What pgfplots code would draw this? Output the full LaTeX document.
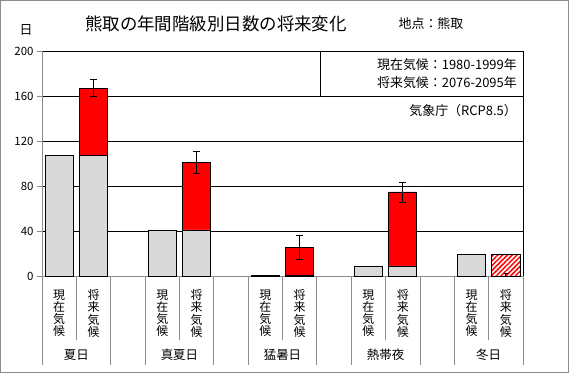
\documentclass[border=0pt]{standalone}
\usepackage{fontspec}
\setmainfont{Noto Sans CJK JP}
\usepackage{pgfplots}
\pgfplotsset{compat=1.18}
\usetikzlibrary{patterns.meta}
\definecolor{barg}{HTML}{D9D9D9}
\definecolor{axg}{HTML}{8C8C8C}
\begin{document}
\begin{tikzpicture}[x=1bp,y=1bp]
\useasboundingbox (0,0) rectangle (569,373);
\draw[axg, line width=1bp] (0.5,0.5) rectangle (568.5,372.5);
\begin{axis}[
  at={(42bp,97bp)}, anchor=south west,
  width=481bp, height=225bp, scale only axis,
  xmin=-0.5, xmax=13.5, ymin=0, ymax=200,
  ytick={0,40,...,200},
  xtick={0,1,3,4,6,7,9,10,12,13},
  xticklabels={現\\在\\気\\候, 将\\来\\気\\候, 現\\在\\気\\候, 将\\来\\気\\候, 現\\在\\気\\候, 将\\来\\気\\候, 現\\在\\気\\候, 将\\来\\気\\候, 現\\在\\気\\候, 将\\来\\気\\候},
  xticklabel style={align=center, font=\fontsize{12}{12.3}\selectfont, anchor=north, yshift=-5bp},
  x tick style={draw=none},
  y tick style={axg, line width=0.75bp},
  tick align=outside, major tick length=5bp,
  ymajorgrids, grid style={black, line width=0.75bp},
  axis x line*=bottom, axis y line*=left,
  axis line style={axg, line width=0.75bp, -},
  yticklabel style={font=\fontsize{11.5}{12}\selectfont},
  /pgf/number format/assume math mode=true,
  ybar, bar width=0.82, bar shift=0pt,
  clip=false,
]
% current climate
\addplot[fill=barg, draw=black, line width=0.75bp] coordinates {(0,107.5) (3,41) (6,0.8) (9,9) (12,19.5)};
% future climate total (red part shows increase)
\addplot[fill=red, draw=black, line width=0.75bp,
  error bars/.cd, y dir=both, y explicit,
  error bar style={black, line width=0.75bp},
  error mark options={rotate=90, mark size=3.5bp, black, line width=0.75bp}]
  coordinates {(1,167) +- (0,7.7) (4,101) +- (0,9.6) (7,25.5) +- (0,10.8) (10,74.7) +- (0,8.9)};
% future climate base
\addplot[fill=barg, draw=black, line width=0.75bp] coordinates {(1,107.5) (4,41) (7,0.8) (10,9)};
% winter days: decrease (hatched)
\addplot[draw=black, line width=0.75bp, pattern={Lines[angle=45,distance=3.4bp,line width=1.5bp]}, pattern color=red] coordinates {(13,19.5)};
\addplot[draw=none, fill=none,
  error bars/.cd, y dir=both, y explicit,
  error bar style={draw=black, line width=0.75bp},
  error mark options={rotate=90, mark size=2bp, draw=black, line width=0.75bp}]
  coordinates {(13,1) +- (0,1.2)};
\draw[black, line width=0.75bp] (rel axis cs:1,0) -- (rel axis cs:1,1);
\pgfplotsinvokeforeach{-0.5,1.5,2.5,4.5,5.5,7.5,8.5,10.5,11.5,13.5}{
  \draw[axg, line width=0.75bp] (axis cs:#1,0) -- ([yshift=-89bp]axis cs:#1,0);
}
\pgfplotsinvokeforeach{0.5,3.5,6.5,9.5,12.5}{
  \draw[axg, line width=0.75bp] (axis cs:#1,0) -- ([yshift=-64bp]axis cs:#1,0);
}
\node[font=\fontsize{12.5}{12.5}\selectfont] at ([yshift=-79bp]axis cs:0.5,0) {夏日};
\node[font=\fontsize{12.5}{12.5}\selectfont] at ([yshift=-79bp]axis cs:3.5,0) {真夏日};
\node[font=\fontsize{12.5}{12.5}\selectfont] at ([yshift=-79bp]axis cs:6.5,0) {猛暑日};
\node[font=\fontsize{12.5}{12.5}\selectfont] at ([yshift=-79bp]axis cs:9.5,0) {熱帯夜};
\node[font=\fontsize{12.5}{12.5}\selectfont] at ([yshift=-79bp]axis cs:12.5,0) {冬日};
\end{axis}
% legend-like text box
\draw[black, line width=0.75bp, fill=white] (320,277) rectangle (523,322);
\node[anchor=east, font=\fontsize{13}{13}\selectfont, inner sep=0pt] at (517,308.5) {現在気候：1980-1999年};
\node[anchor=east, font=\fontsize{13}{13}\selectfont, inner sep=0pt] at (517,290.5) {将来気候：2076-2095年};
\node[anchor=east, font=\fontsize{13}{13}\selectfont, inner sep=0pt] at (517,262.5) {気象庁（RCP8.5）};
% titles
\node[font=\fontsize{17.5}{17.5}\selectfont] at (216,349) {熊取の年間階級別日数の将来変化};
\node[font=\fontsize{13}{13}\selectfont] at (431,349) {地点：熊取};
\node[font=\fontsize{13}{13}\selectfont] at (26,343) {日};
\end{tikzpicture}
\end{document}
